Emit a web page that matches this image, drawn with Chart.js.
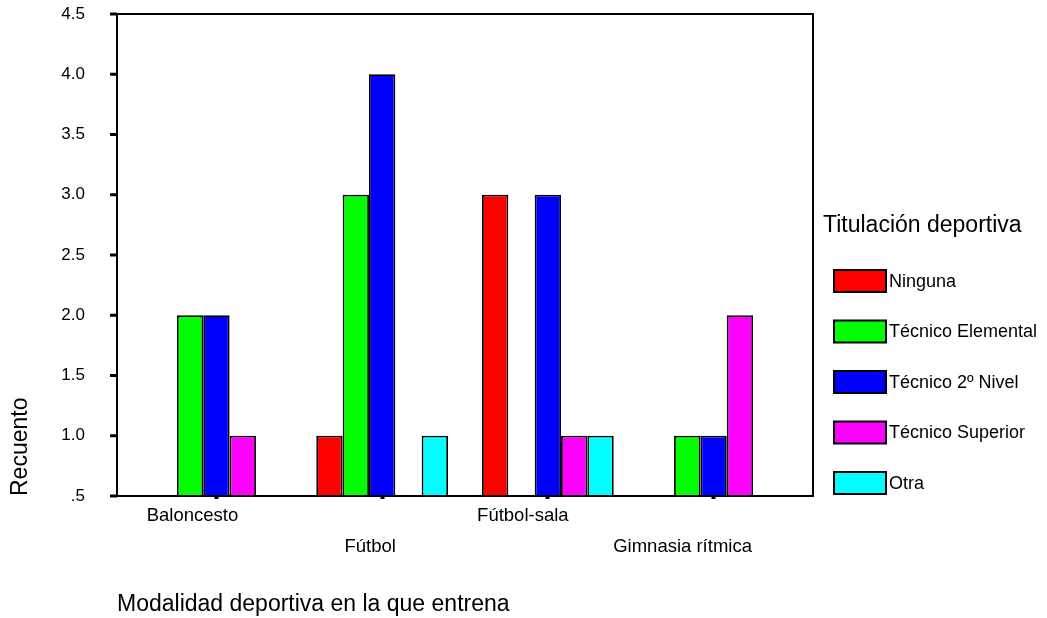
<!DOCTYPE html>
<html>
<head>
<meta charset="utf-8">
<script src="https://cdn.jsdelivr.net/npm/chart.js@4.4.1/dist/chart.umd.min.js"></script>
<style>
  html, body { margin: 0; padding: 0; background: #ffffff; }
  #wrap { position: relative; width: 1047px; height: 618px; }
</style>
</head>
<body>
<div id="wrap"><canvas id="c"></canvas></div>
<script>
// ---- data ----
const categories = ['Baloncesto', 'Fútbol', 'Fútbol-sala', 'Gimnasia rítmica'];
const seriesNames = ['Ninguna', 'Técnico Elemental', 'Técnico 2º Nivel', 'Técnico Superior', 'Otra'];
const ninguna          = [null, 1, 3, null];
const tecnicoElemental = [2, 3, null, 1];
const tecnico2Nivel    = [2, 4, 3, 1];
const tecnicoSuperior  = [1, null, 1, 2];
const otra             = [null, 1, 1, null];
const yTicks = [0.5, 1.0, 1.5, 2.0, 2.5, 3.0, 3.5, 4.0, 4.5];
const xTitle = 'Modalidad deportiva en la que entrena';
const yTitle = 'Recuento';
const legendTitle = 'Titulación deportiva';

// ---- styles ----
const colors = ['#ff0000', '#00ff00', '#0000ff', '#ff00ff', '#00ffff'];
const FONT = '"Liberation Sans", Arial, Helvetica, sans-serif';
const labelShift = [-24, -12, -25, -31];   // horizontal shift of category labels (px)
const labelRow = [0, 1, 0, 1];             // staggered rows

const allSeries = [ninguna, tecnicoElemental, tecnico2Nivel, tecnicoSuperior, otra];
const datasets = allSeries.map((vals, s) => ({
  label: seriesNames[s],
  data: categories.map((c, i) => ({ x: i, y: vals[i] })),
  backgroundColor: colors[s],
  borderColor: '#000000',
  borderWidth: 1.8,
  borderSkipped: false,
  categoryPercentage: 0.795,
  barPercentage: 1.0
}));

const framePlugin = {
  id: 'frame',
  afterDraw(chart) {
    const ctx = chart.ctx;
    const a = chart.chartArea;
    const xs = chart.scales.x;
    const ys = chart.scales.y;
    ctx.save();
    // frame
    ctx.strokeStyle = '#000';
    ctx.lineWidth = 2;
    ctx.strokeRect(a.left, a.top, a.right - a.left, a.bottom - a.top);
    // y tick marks
    ctx.lineWidth = 3;
    yTicks.forEach(v => {
      const py = ys.getPixelForValue(v);
      ctx.beginPath();
      ctx.moveTo(a.left - 7, py);
      ctx.lineTo(a.left, py);
      ctx.stroke();
    });
    // category labels
    ctx.fillStyle = '#000';
    ctx.font = '18.5px ' + FONT;
    ctx.textAlign = 'center';
    ctx.textBaseline = 'alphabetic';
    categories.forEach((c, i) => {
      const px = xs.getPixelForValue(i) + labelShift[i];
      const py = labelRow[i] === 0 ? 521 : 552;
      ctx.fillText(c, px, py);
    });
    // legend
    ctx.textAlign = 'left';
    ctx.font = '23px ' + FONT;
    ctx.fillText(legendTitle, 823, 232);
    ctx.font = '18px ' + FONT;
    ctx.textBaseline = 'middle';
    seriesNames.forEach((n, s) => {
      const top = 270 + s * 50.5;
      ctx.fillStyle = colors[s];
      ctx.fillRect(834, top, 52, 22);
      ctx.strokeStyle = '#000';
      ctx.lineWidth = 2;
      ctx.strokeRect(834, top, 52, 22);
      ctx.fillStyle = '#000';
      ctx.fillText(n, 889, top + 12);
    });
    ctx.restore();
  }
};

new Chart(document.getElementById('c'), {
  type: 'bar',
  data: { datasets },
  options: {
    responsive: true,
    maintainAspectRatio: false,
    animation: false,
    layout: { padding: { left: 0, right: 234, top: 14, bottom: 0 } },
    plugins: { legend: { display: false }, tooltip: { enabled: false } },
    scales: {
      x: {
        type: 'linear',
        offset: false,
        min: -0.6,
        max: 3.6,
        afterBuildTicks: (scale) => { scale.ticks = categories.map((c, i) => ({ value: i })); },
        afterFit: (scale) => { scale.height = 122; },
        ticks: { display: false },
        grid: { display: true, offset: false, drawOnChartArea: false, drawTicks: true, tickLength: 3, tickWidth: 4, tickColor: '#000' },
        border: { display: false },
        title: { display: true, text: xTitle, align: 'start', color: '#000', font: { family: FONT, size: 23 }, padding: { top: 0, bottom: 0 } }
      },
      y: {
        min: 0.5,
        max: 4.5,
        afterBuildTicks: (scale) => { scale.ticks = yTicks.map(v => ({ value: v })); },
        afterFit: (scale) => { scale.width = 117; },
        ticks: {
          color: '#000',
          padding: 0,
          font: { family: FONT, size: 17 },
          callback: (v) => (v === 0.5 ? '.5' : Number(v).toFixed(1))
        },
        grid: { display: true, drawOnChartArea: false, drawTicks: true, tickLength: 32, tickWidth: 0, tickColor: 'rgba(0,0,0,0)' },
        border: { display: false },
        title: { display: true, text: yTitle, align: 'start', color: '#000', font: { family: FONT, size: 23 }, padding: { top: 7, bottom: 0 } }
      }
    }
  },
  plugins: [framePlugin]
});
</script>
</body>
</html>
